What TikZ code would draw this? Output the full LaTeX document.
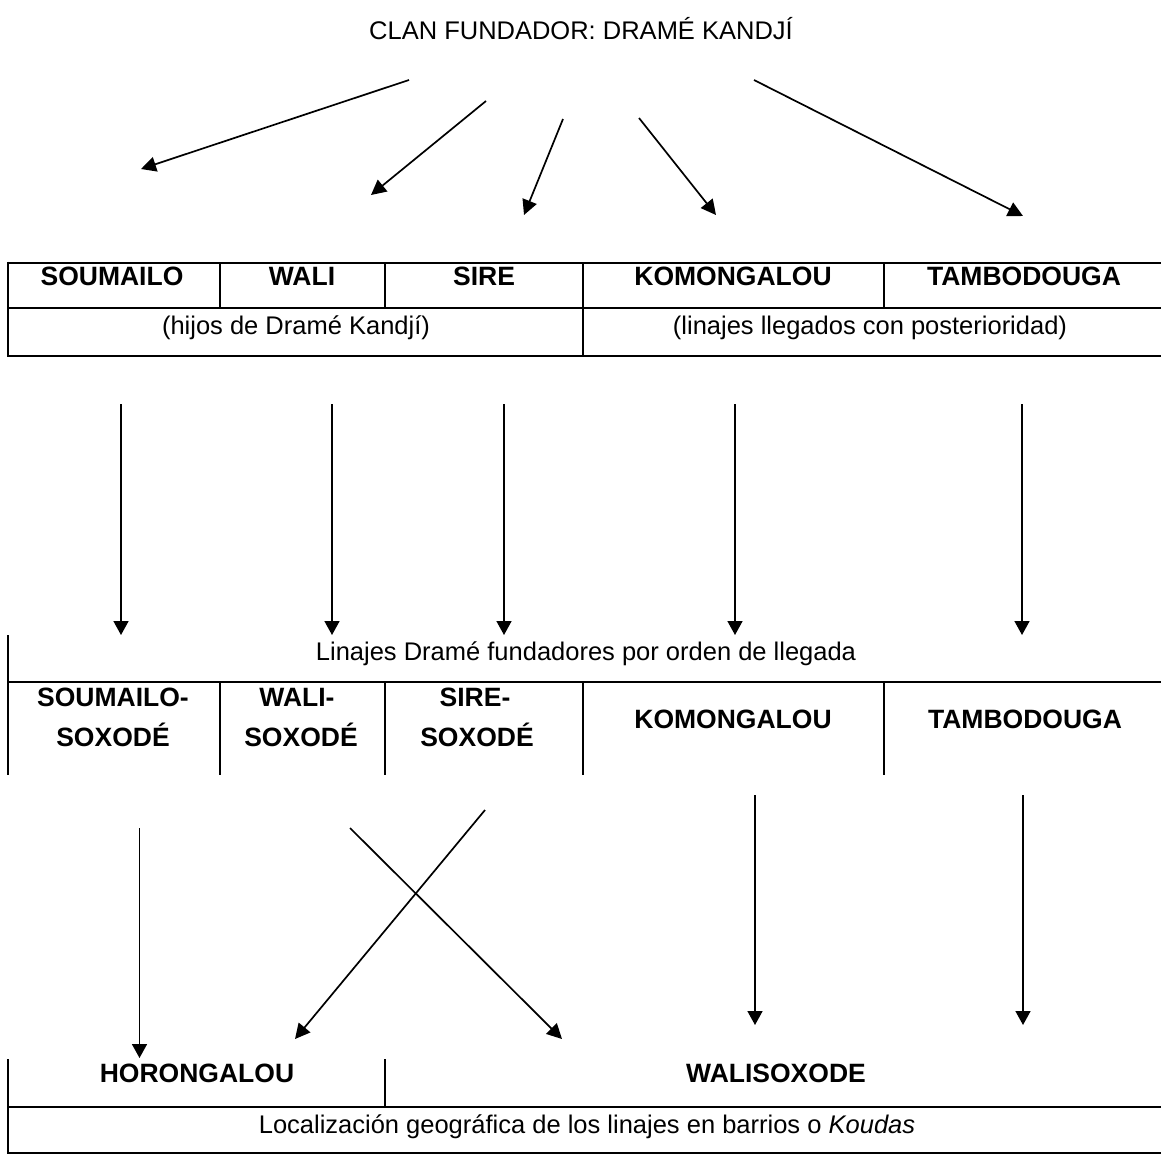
\documentclass[tikz,border=0pt]{standalone}
\usepackage{fontspec}
\setmainfont{Liberation Sans}
\usetikzlibrary{arrows.meta}
\tikzset{
  txt/.style={inner sep=0pt, anchor=base, font=\fontsize{25.5}{30}\selectfont},
  btxt/.style={inner sep=0pt, anchor=base, font=\fontsize{26.5}{31}\selectfont\bfseries},
  rule/.style={line width=2.8pt},
  crule/.style={line width=2.3pt},
  arr/.style={line width=1.7pt, -{Triangle[length=15pt,width=15pt]}},
  varr/.style={line width=1.6pt, -{Triangle[length=14pt,width=15pt]}}
}
\begin{document}
\begin{tikzpicture}[x=1pt,y=-1pt]
\useasboundingbox (0,0) rectangle (1161,1157);
% title
\node[txt] (title) at (581,39) {CLAN FUNDADOR: DRAMÉ KANDJÍ};
% top arrows
\coordinate (s1) at (409,80);  \coordinate (e1) at (141,169);
\coordinate (s2) at (486,101); \coordinate (e2) at (371,195);
\coordinate (s3) at (563,119); \coordinate (e3) at (524,215);
\coordinate (s4) at (639,118); \coordinate (e4) at (716,215);
\coordinate (s5) at (754,80);  \coordinate (e5) at (1023,216);
\foreach \i in {1,...,5} \draw[arr] (s\i) -- (e\i);
% table 1
\draw[rule] (8,263) -- (1161,263);
\draw[rule] (8,308) -- (1161,308);
\draw[rule] (8,356) -- (1161,356);
\draw[rule] (8,261.6) -- (8,357.4);
\draw[crule] (220,263) -- (220,308);
\draw[crule] (385,263) -- (385,308);
\draw[crule] (583,263) -- (583,356);
\draw[crule] (884,263) -- (884,308);
\node[btxt] (t1a) at (112,285) {SOUMAILO};
\node[btxt] (t1b) at (302,285) {WALI};
\node[btxt] (t1c) at (484,285) {SIRE};
\node[btxt] (t1d) at (733,285) {KOMONGALOU};
\node[btxt] (t1e) at (1024,285) {TAMBODOUGA};
\node[txt] (t1f) at (296,334) {(hijos de Dramé Kandjí)};
\node[txt] (t1g) at (870,334) {(linajes llegados con posterioridad)};
% middle arrows
\foreach \x [count=\i] in {121,332,504,735,1022} {
  \coordinate (m\i) at (\x,404);
  \coordinate (n\i) at (\x,635);
  \draw[varr] (m\i) -- (n\i);
}
% table 2
\draw[rule] (8,635) -- (8,775);
\draw[rule] (8,682) -- (1161,682);
\draw[crule] (220,682) -- (220,775);
\draw[crule] (385,682) -- (385,775);
\draw[crule] (583,682) -- (583,775);
\draw[crule] (884,682) -- (884,775);
\node[txt] (t2) at (586,660) {Linajes Dramé fundadores por orden de llegada};
\node[btxt] (t2a) at (113,706) {SOUMAILO-};
\node[btxt] (t2b) at (113,746) {SOXODÉ};
\node[btxt] (t2c) at (297,706) {WALI-};
\node[btxt] (t2d) at (301,746) {SOXODÉ};
\node[btxt] (t2e) at (475,706) {SIRE-};
\node[btxt] (t2f) at (477,746) {SOXODÉ};
\node[btxt] (t2g) at (733,728) {KOMONGALOU};
\node[btxt] (t2h) at (1025,728) {TAMBODOUGA};
% bottom arrows
\coordinate (b1s) at (139.5,828); \coordinate (b1e) at (139.5,1058);
\coordinate (b2s) at (350,828);   \coordinate (b2e) at (562,1039);
\coordinate (b3s) at (485,810);   \coordinate (b3e) at (295,1039);
\coordinate (b4s) at (755,795);   \coordinate (b4e) at (755,1025);
\coordinate (b5s) at (1023,795);  \coordinate (b5e) at (1023,1025);
\draw[varr] (b1s) -- (b1e);
\draw[arr] (b2s) -- (b2e);
\draw[arr] (b3s) -- (b3e);
\draw[varr] (b4s) -- (b4e);
\draw[varr] (b5s) -- (b5e);
% table 3
\draw[rule] (8,1059) -- (8,1154.4);
\draw[crule] (385,1059) -- (385,1107);
\draw[rule] (8,1107) -- (1161,1107);
\draw[rule] (8,1153) -- (1161,1153);
\node[btxt] (t3a) at (197,1082) {HORONGALOU};
\node[btxt] (t3b) at (776,1082) {WALISOXODE};
\node[txt] (t3c) at (587,1133) {Localización geográfica de los linajes en barrios o \textit{Koudas}};
\end{tikzpicture}
\end{document}
